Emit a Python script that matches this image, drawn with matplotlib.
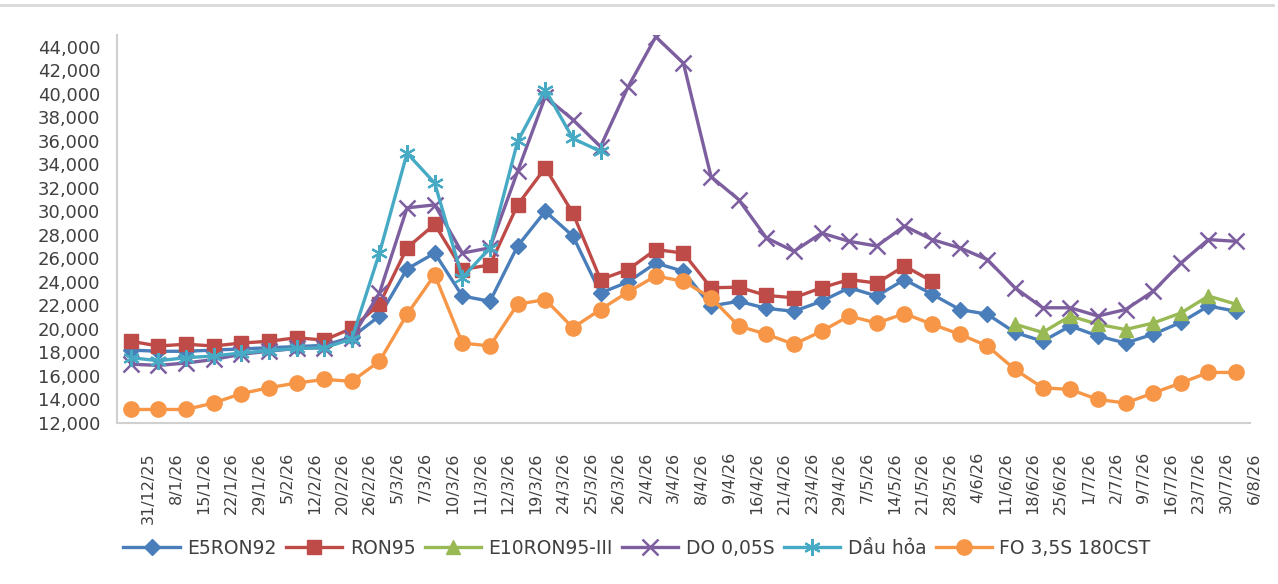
import numpy as np
import matplotlib
matplotlib.use("Agg")
import matplotlib.pyplot as plt
import matplotlib.transforms as mtransforms
from matplotlib.lines import Line2D
from matplotlib.ticker import FuncFormatter


# ==========================================
# DATA
# ==========================================

dates = [
    "31/12/25", "8/1/26", "15/1/26", "22/1/26", "29/1/26", "5/2/26",
    "12/2/26", "20/2/26", "26/2/26", "5/3/26", "7/3/26", "10/3/26",
    "11/3/26", "12/3/26", "19/3/26", "24/3/26", "25/3/26", "26/3/26",
    "2/4/26", "3/4/26", "8/4/26", "9/4/26", "16/4/26", "21/4/26",
    "23/4/26", "29/4/26", "7/5/26", "14/5/26", "21/5/26", "28/5/26",
    "4/6/26", "11/6/26", "18/6/26", "25/6/26", "1/7/26", "2/7/26",
    "9/7/26", "16/7/26", "23/7/26", "30/7/26", "6/8/26"
]

e5ron92 = [
    18200, 18100, 18100, 18200, 18300, 18400, 18500, 18600, 19300,
    21100, 25100, 26450, 22800, 22350, 27050, 30000, 27900, 23050,
    24000, 25600, 24900, 21950, 22350, 21750, 21500, 22350, 23500,
    22800, 24200, 22950, 21650, 21250, 19700, 18950, 20250, 19400,
    18800, 19550, 20550, 21950, 21500
]

ron95 = [
    18950, 18550, 18700, 18550, 18800, 18950, 19250, 19050, 20050,
    22100, 26900, 28900, 25050, 25450, 30550, 33700, 29850, 24200,
    25050, 26750, 26450, 23500, 23550, 22850, 22650, 23500, 24200,
    23900, 25350, 24050,
    None, None, None, None, None, None, None, None, None, None, None
]

e10ron95 = [
    None, None, None, None, None, None, None, None, None, None, None,
    None, None, None, None, None, None, None, None, None, None, None,
    None, None, None, None, None, None, None, None, None, None,
    20400, 19700, 21100, 20400, 19950, 20500, 21350, 22800, 22100
]

do005 = [
    17000, 16900, 17100, 17400, 17850, 18100, 18350, 18400, 19250,
    23050, 30300, 30550, 26450, 26900, 33400, 39750, 37800, 35500,
    40600, 44850, 42600, 32950, 31000, 27750, 26600, 28150, 27450,
    27050, 28750, 27600, 26900, 25900, 23500, 21800, 21800, 21100,
    21650, 23200, 25600, 27600, 27450
]

dau_hoa = [
    17550, 17300, 17550, 17700, 17950, 18150, 18350, 18400, 19150,
    26450, 34950, 32400, 24350, 26900, 35950, 40350, 36200, 35100,
    None, None, None, None, None, None, None, None, None, None, None,
    None, None, None, None, None, None, None, None, None, None, None,
    None
]

fo = [
    13150, 13150, 13150, 13700, 14500, 15000, 15400, 15700, 15550,
    17250, 21250, 24600, 18800, 18550, 22100, 22500, 20100, 21650,
    23150, 24500, 24050, 22650, 20250, 19550, 18700, 19800, 21100,
    20500, 21300, 20400, 19550, 18550, 16550, 15000, 14850, 14000,
    13700, 14550, 15400, 16300, 16300
]

series_names = [
    "E5RON92", "RON95", "E10RON95-III", "DO 0,05S", "Dầu hỏa",
    "FO 3,5S 180CST"
]


# ==========================================
# STYLE
# ==========================================

def to_array(values):

    return np.array(
        [np.nan if v is None else v for v in values],
        dtype=float
    )


styles = [
    dict(color="#4A7EBB", marker="D", markersize=8),
    dict(color="#BE4B48", marker="s", markersize=10),
    dict(color="#98B954", marker="^", markersize=10),
    dict(color="#7D5FA0", marker="x", markersize=11, markeredgewidth=1.8),
    dict(color="#46AAC5", marker=(6, 2, 0), markersize=12,
         markeredgewidth=1.6),
    dict(color="#F79646", marker="o", markersize=11),
]

text_color = "#404040"
axis_color = "#D0D0D0"


# ==========================================
# CHART
# ==========================================

fig = plt.figure(
    figsize=(12.78, 5.84),
    dpi=100
)

ax = fig.add_axes([0.0915, 0.2757, 0.8865, 0.6644])

x = np.arange(len(dates))

all_series = [e5ron92, ron95, e10ron95, do005, dau_hoa, fo]

for name, values, st in zip(series_names, all_series, styles):

    ax.plot(
        x,
        to_array(values),
        linewidth=2.4,
        label=name,
        markeredgecolor=st["color"],
        **st
    )

ax.set_xlim(-0.5, len(dates) - 0.5)
ax.set_ylim(12000, 45000)
ax.set_yticks(np.arange(12000, 44001, 2000))
ax.yaxis.set_major_formatter(
    FuncFormatter(lambda v, p: f"{int(v):,}")
)

ax.set_xticks(x)
ax.set_xticklabels(
    dates,
    rotation=90,
    ha="center",
    va="top",
    fontsize=11.5,
    color=text_color
)

ax.tick_params(axis="x", length=0, pad=21)
ax.tick_params(axis="y", length=0, pad=12, labelsize=13,
               labelcolor=text_color)

# labels sit a bit right of the points, like the original
offset = mtransforms.ScaledTranslation(0.18, 0, fig.dpi_scale_trans)
for lab in ax.get_xticklabels():
    lab.set_transform(lab.get_transform() + offset)

for side in ["top", "right"]:
    ax.spines[side].set_visible(False)

for side in ["left", "bottom"]:
    ax.spines[side].set_color(axis_color)
    ax.spines[side].set_linewidth(1.5)

# outer chart border (top edge only visible)
fig.add_artist(
    Line2D([0, 1273 / 1278], [1 - 5 / 584, 1 - 5 / 584],
           transform=fig.transFigure, color="#D9D9D9", linewidth=2)
)

leg = fig.legend(
    loc="center",
    bbox_to_anchor=(637 / 1278, 1 - 548 / 584),
    ncol=6,
    frameon=False,
    fontsize=13.5,
    handlelength=3.0,
    handletextpad=0.4,
    columnspacing=0.5,
    borderpad=0
)

for t in leg.get_texts():
    t.set_color(text_color)

fig.savefig("out.png", dpi=100)
